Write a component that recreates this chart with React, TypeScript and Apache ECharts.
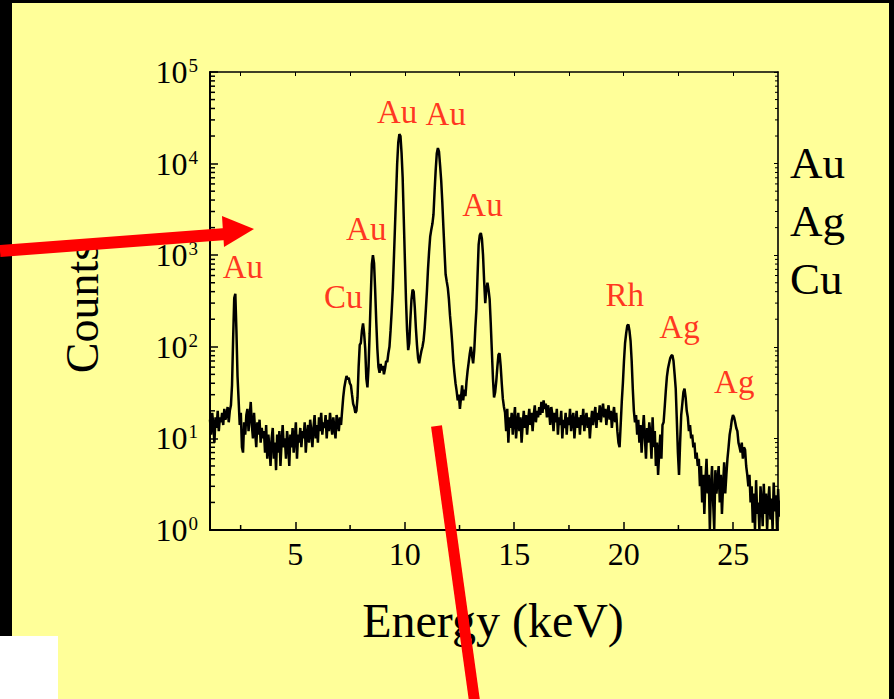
import React, { useEffect, useRef } from "react";
import * as echarts from "echarts";

// ---- channel calibration of the spectrum (keV) ----
const E_START = 1.1;
const E_STEP = 0.0503;
const E_MIN = 1.1;
const E_MAX = 27.05;

// ---- counts per channel, region by region ----
const bgLow = [16, 11, 19, 14, 9, 17, 13, 20, 12, 17, 15, 19, 14, 21, 16, 18, 22, 15, 20]; // ~1.1–2.0
const auM = [23, 38, 120, 340, 380, 150, 48, 26, 14, 19]; // Au M
const bgA = [8, 7, 15, 11, 18, 21, 12, 17, 25, 14, 10, 19, 12, 8, 15, 11, 16, 9, 13, 10];
const bgB = [12, 7, 14, 6, 11, 8, 5, 10, 13, 6, 9, 4.5, 11, 7, 12, 5, 9, 14, 8, 10, 6, 12, 9, 5, 11, 8, 13, 7, 10, 15, 6, 11, 9, 13];
const bgC = [8, 12, 10, 15, 7, 11, 14, 9, 16, 12, 8, 13, 18, 10, 14, 9, 17, 12, 19, 11, 15, 13, 18, 10, 16, 12, 19, 14, 11, 17, 13, 10, 18, 15, 12, 17, 14, 20];
const cuAuL = [28, 36, 42, 48, 44, 46, 40, 38, 30, 24, 22, 19, 20, 28, 60, 105, 110, 150, 180, 140, 95, 45, 36, 60, 140, 350, 800, 1000, 820, 420, 190, 95, 60, 52, 65, 55, 62, 50, 58, 70, 68, 85, 100, 150, 240, 420, 900, 2000, 4500, 10000, 17000, 21000, 20000]; // Cu K, Au Ll
const auLa = [13000, 7000, 2500, 900, 330, 150, 92, 110, 200, 330, 420, 400, 270, 160, 105, 75, 66, 78, 90, 100, 118, 160, 250, 400, 700]; // Au La tail
const auLb = [1100, 1600, 1900, 2200, 2800, 5000, 8500, 13000, 14800, 13500, 9500, 6500, 3800, 2000, 1100, 620, 520, 440, 330, 220, 160, 110, 70, 52, 40, 33, 26, 30, 21, 28]; // Au Lb
const auLg = [38, 26, 34, 29, 42, 55, 68, 85, 100, 80, 66, 90, 160, 260, 600, 1300, 1650, 1750, 1500, 1000, 520, 300, 420, 500, 420, 330, 180, 90, 45, 28, 32, 42, 60, 82, 85, 62, 40, 27, 22, 19]; // Au Lg
const bgMid = [
  12, 21, 9, 17, 13, 19, 11, 16, 22, 10,
  15, 19, 12, 17, 9, 14, 20, 13, 18, 11,
  16, 21, 14, 19, 12, 18, 23, 15, 20, 17,
  22, 18, 25, 19, 26, 21, 24, 17, 23, 20,
  14, 22, 18, 12, 19, 15, 21, 11, 17, 14,
  20, 10, 16, 13, 19, 11, 17, 14, 21, 12,
  16, 19, 10, 15, 20, 13, 17, 11, 18, 14,
  21, 12, 16, 19, 13, 17, 10, 15, 20, 14,
  18, 22, 13, 19, 16, 23, 15, 20, 24, 17,
  21, 14, 19, 23, 16, 20, 13, 18, 22, 15,
  19, 12, 9, 8,
];
const rhK = [14, 25, 40, 70, 110, 140, 170, 175, 150, 115, 70, 35, 20, 15, 18, 11]; // Rh K
const bgHigh = [16, 9, 14, 7, 12, 18, 10, 6, 13, 9, 15, 11, 6, 17, 8, 12, 5, 9, 4, 7, 11, 6, 14];
const agKa = [15, 22, 33, 47, 58, 66, 75, 80, 81, 70, 50, 35, 16, 7, 4, 9, 18, 24, 32, 35, 28, 20, 17, 12, 14, 10, 11, 8, 9, 6, 7, 5, 6]; // Ag Ka
const tailA = [3, 5, 2, 4, 1.5, 3.5, 6, 2.5, 4, 1, 3, 5, 2, 1, 4.5, 2.5, 3.5, 5, 2, 4, 1.5, 3, 5.5, 2.5, 4, 6];
const agKb = [8, 11, 13, 16, 18, 17, 15, 13, 12, 9, 8, 7, 9, 6, 8, 7.5, 5, 4, 3, 4]; // Ag Kb
const tailB = [2, 3, 1.2, 2.5, 1, 3.5, 1.5, 2, 1, 3, 2, 1.1, 3.2, 1.5, 2.5, 1, 2, 3, 1.3, 2.2, 1, 3.3, 1.6, 2.4, 1, 2.8, 1.4, 2.1, 1.1];

const counts = [
  ...bgLow, ...auM, ...bgA, ...bgB, ...bgC, ...cuAuL, ...auLa, ...auLb, ...auLg,
  ...bgMid, ...rhK, ...bgHigh, ...agKa, ...tailA, ...agKb, ...tailB,
];

// ---- peak annotations ----
const peakNames = ["Au", "Cu", "Au", "Au", "Au", "Au", "Rh", "Ag", "Ag"];
const peakLabelE = [2.6, 7.19, 8.24, 9.65, 11.87, 13.55, 20.05, 22.55, 25.05];
const peakLabelCounts = [745, 350, 1940, 36600, 34800, 3540, 370, 165, 41];

// ---- elements list at right ----
const elements = ["Au", "Ag", "Cu"];

// ---- ticks ----
const xMajorTicks = [5, 10, 15, 20, 25];
const xMinorTicks = [2.5, 7.5, 12.5, 17.5, 22.5];
const xTopTicks = [2.5, 5, 7.5, 10, 12.5, 15, 17.5, 20, 22.5, 25];
const yDecades = [1, 10, 100, 1000, 10000];
const yMultipliers = [2, 3, 4, 5, 6, 7, 8, 9];

const FONT = '"Liberation Serif", "Times New Roman", serif';

export default function App() {
  const ref = useRef<HTMLDivElement>(null);

  useEffect(() => {
    if (!ref.current) return;
    const chart = echarts.init(ref.current, undefined, { renderer: "svg" });

    const spectrum = counts.map((c, i) => [+(E_START + i * E_STEP).toFixed(3), c]);
    const yMinor: number[] = [];
    yDecades.forEach((d) => yMultipliers.forEach((m) => yMinor.push(m * d)));

    const option: any = {
      animation: false,
      backgroundColor: "#000000",
      textStyle: { fontFamily: FONT },
      grid: { left: 210, top: 72, width: 568, height: 458, show: false },
      xAxis: [
        {
          type: "value",
          min: E_MIN,
          max: E_MAX,
          position: "bottom",
          axisLine: { show: true, onZero: false, lineStyle: { color: "#000", width: 2 } },
          axisTick: { show: true, inside: true, length: 8, customValues: xMajorTicks, lineStyle: { color: "#000", width: 1.5 } },
          axisLabel: { show: true, customValues: xMajorTicks, color: "#000", fontSize: 32, fontFamily: FONT, margin: 8 },
          splitLine: { show: false },
        },
        {
          type: "value",
          min: E_MIN,
          max: E_MAX,
          position: "top",
          axisLine: { show: true, onZero: false, lineStyle: { color: "#000", width: 1.6 } },
          axisTick: { show: true, inside: true, length: 4, customValues: xTopTicks, lineStyle: { color: "#000", width: 1 } },
          axisLabel: { show: false },
          splitLine: { show: false },
        },
      ],
      yAxis: [
        {
          type: "log",
          logBase: 10,
          min: 1,
          max: 100000,
          position: "left",
          axisLine: { show: true, onZero: false, lineStyle: { color: "#000", width: 2 } },
          axisTick: { show: true, inside: true, length: 8, lineStyle: { color: "#000", width: 1.5 } },
          axisLabel: {
            show: true,
            margin: 12,
            formatter: (v: number) => `{b|10}{s|${Math.round(Math.log10(v))}}`,
            rich: {
              b: { fontSize: 32, fontFamily: FONT, color: "#000", lineHeight: 32 },
              s: { fontSize: 19, fontFamily: FONT, color: "#000", verticalAlign: "top", lineHeight: 19, padding: [0, 0, 0, 1] },
            },
          },
          splitLine: { show: false },
        },
        {
          type: "log",
          logBase: 10,
          min: 1,
          max: 100000,
          position: "right",
          axisLine: { show: true, onZero: false, lineStyle: { color: "#000", width: 1.6 } },
          axisTick: { show: true, inside: true, length: 4, lineStyle: { color: "#000", width: 1 } },
          axisLabel: { show: false },
          splitLine: { show: false },
        },
      ],
      series: [
        {
          type: "line",
          data: spectrum,
          xAxisIndex: 0,
          yAxisIndex: 0,
          showSymbol: false,
          symbol: "none",
          lineStyle: { color: "#000", width: 2.5 },
          z: 5,
        },
        {
          type: "scatter",
          xAxisIndex: 0,
          yAxisIndex: 0,
          data: peakLabelE.map((e, i) => ({ value: [e, peakLabelCounts[i]], name: peakNames[i] })),
          symbolSize: 1,
          itemStyle: { color: "rgba(0,0,0,0)" },
          label: {
            show: true,
            position: "inside",
            formatter: "{b}",
            color: "#ff0000",
            textBorderWidth: 0,
            fontSize: 33,
            fontFamily: FONT,
          },
          silent: true,
          z: 6,
        },
        {
          type: "custom",
          xAxisIndex: 0,
          yAxisIndex: 0,
          data: xMinorTicks.map((v) => [v, 1]),
          clip: false,
          silent: true,
          z: 4,
          renderItem: (params: any, api: any) => {
            const cs = params.coordSys;
            const x = api.coord([api.value(0), 1])[0];
            const bottom = cs.y + cs.height;
            return {
              type: "line",
              shape: { x1: x, y1: bottom, x2: x, y2: bottom - 5 },
              style: { stroke: "#000", lineWidth: 1.5 },
            };
          },
        },
        {
          type: "custom",
          xAxisIndex: 0,
          yAxisIndex: 0,
          data: yMinor.map((v) => [E_MIN, v]),
          clip: false,
          silent: true,
          z: 4,
          renderItem: (params: any, api: any) => {
            const cs = params.coordSys;
            const y = api.coord([E_MIN, api.value(1)])[1];
            return {
              type: "group",
              children: [
                { type: "line", shape: { x1: cs.x, y1: y, x2: cs.x + 5, y2: y }, style: { stroke: "#000", lineWidth: 1.5 } },
                { type: "line", shape: { x1: cs.x + cs.width, y1: y, x2: cs.x + cs.width - 3, y2: y }, style: { stroke: "#000", lineWidth: 1 } },
              ],
            };
          },
        },
      ],
      graphic: [
        { type: "rect", z: -10, shape: { x: 12, y: 3, width: 877, height: 696 }, style: { fill: "#FFFF99" }, silent: true },
        { type: "rect", z: 50, shape: { x: 0, y: 636, width: 58, height: 63 }, style: { fill: "#FFFFFF" }, silent: true },
        {
          type: "text",
          z: 20,
          x: 82,
          y: 308,
          rotation: Math.PI / 2,
          style: { text: "Counts", fontSize: 46, fontFamily: FONT, fill: "#000", align: "center", verticalAlign: "middle" },
        },
        {
          type: "text",
          z: 20,
          x: 493,
          y: 620,
          style: { text: "Energy (keV)", fontSize: 48, fontFamily: FONT, fill: "#000", align: "center", verticalAlign: "middle" },
        },
        ...elements.map((el, i) => ({
          type: "text",
          z: 20,
          x: 790,
          y: 163 + i * 58,
          style: { text: el, fontSize: 45, fontFamily: FONT, fill: "#000", align: "left", verticalAlign: "middle" },
        })),
        { type: "line", z: 100, shape: { x1: 0, y1: 251, x2: 226, y2: 234 }, style: { stroke: "#ff0000", lineWidth: 12 } },
        { type: "polygon", z: 100, shape: { points: [[222, 216], [254, 229], [224, 247]] }, style: { fill: "#ff0000" } },
        { type: "line", z: 100, shape: { x1: 436.5, y1: 426, x2: 476, y2: 712 }, style: { stroke: "#ff0000", lineWidth: 11 } },
      ],
    };

    chart.setOption(option);
    return () => chart.dispose();
  }, []);

  return <div ref={ref} style={{ position: "absolute", left: 0, top: 0, width: 894, height: 699 }} />;
}
